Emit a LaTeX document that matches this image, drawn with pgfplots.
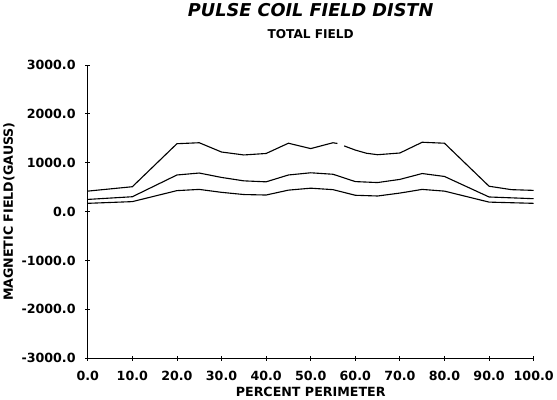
\documentclass[border=0pt]{standalone}
\usepackage{fontspec}
\setmainfont{DejaVu Sans}
\usepackage{pgfplots}
\pgfplotsset{compat=1.18}

\begin{document}
\begin{tikzpicture}
\begin{axis}[
    width=441pt, height=290pt, scale only axis,
    xmin=0, xmax=100, ymin=-3000, ymax=3000,
    axis x line*=bottom, axis y line*=left,
    axis line style={line width=0.9pt, -},
    xtick={0,10,...,100}, ytick={-3000,-2000,...,3000},
    tick align=center, major tick length=5pt,
    tick style={line width=0.8pt, black},
    /pgf/number format/assume math mode=true,
    /pgf/number format/.cd, fixed, fixed zerofill, precision=1, 1000 sep={},
    /pgfplots/.cd,
    ticklabel style={font=\bfseries\fontsize{12.5}{14}\selectfont},
    yticklabel style={xshift=-6pt},
    xticklabel style={yshift=-7pt},
    xlabel={PERCENT PERIMETER},
    ylabel={MAGNETIC FIELD(GAUSS)},
    label style={font=\bfseries\fontsize{12.5}{14}\selectfont},
    xlabel style={yshift=1pt},
    ylabel style={yshift=0pt},
    unbounded coords=jump,
    clip=false,
]
% outer curve (top)
\addplot[black, line width=1.1pt] coordinates {
 (0,420) (10,510) (20,1390) (25,1410) (30,1220) (35,1160) (40,1190)
 (45,1400) (50,1290) (55,1410) (56,1395) (56.5,nan) (57.5,1345) (60,1260)
 (62.5,1195) (65,1165) (70,1200) (75,1420) (80,1400) (90,520) (95,450) (100,435)
};
% middle curve
\addplot[black, line width=1.1pt] coordinates {
 (0,250) (10,305) (20,750) (25,790) (30,700) (35,630) (40,610) (45,750)
 (50,795) (55,765) (60,615) (65,595) (70,660) (75,780) (80,720) (90,300) (100,265)
};
% inner curve (bottom)
\addplot[black, line width=1.1pt] coordinates {
 (0,170) (10,205) (20,430) (25,455) (30,395) (35,350) (40,340) (45,440)
 (50,480) (55,450) (60,335) (65,320) (70,380) (75,455) (80,420) (90,195) (100,170)
};
\node[anchor=base, font=\bfseries\fontsize{12}{14}\selectfont]
  at (rel axis cs:0.5,1) [yshift=26pt] {TOTAL FIELD};
\node[anchor=base, font=\bfseries\itshape\fontsize{17.5}{20}\selectfont]
  at (rel axis cs:0.5,1) [yshift=48pt] {PULSE COIL FIELD DISTN};
\end{axis}
\end{tikzpicture}
\end{document}
